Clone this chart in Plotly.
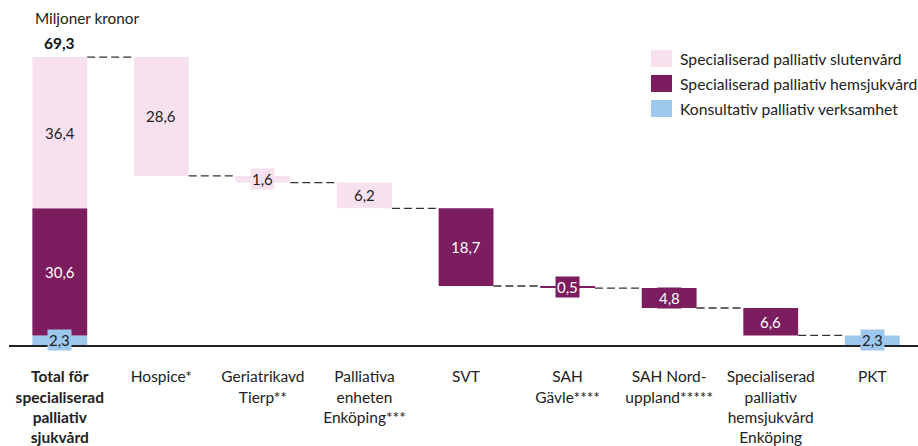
import plotly.graph_objects as go

# ---- data ----
categories = [
    "<b>Total för<br>specialiserad<br>palliativ<br>sjukvård</b>",
    "Hospice*",
    "Geriatrikavd<br>Tierp**",
    "Palliativa<br>enheten<br>Enköping***",
    "SVT",
    "SAH<br>Gävle****",
    "SAH Nord-<br>uppland*****",
    "Specialiserad<br>palliativ<br>hemsjukvård<br>Enköping",
    "PKT",
]
total_slutenvard = 36.4
total_hemsjukvard = 30.6
total_konsultativ = 2.3
total_label = "69,3"

# component steps (category index, value, group)
step_values = [28.6, 1.6, 6.2, 18.7, 0.5, 4.8, 6.6, 2.3]
step_groups = ["slut", "slut", "slut", "hem", "hem", "hem", "hem", "kons"]

group_names = {
    "slut": "Specialiserad palliativ slutenvård",
    "hem": "Specialiserad palliativ hemsjukvård",
    "kons": "Konsultativ palliativ verksamhet",
}
colors = {"slut": "#F8E1EE", "hem": "#7B1D5E", "kons": "#9DC7EC"}
text_colors = {"slut": "#1E1E1E", "hem": "#FFFFFF", "kons": "#1E1E1E"}

def fmt(v):
    return f"{v:.1f}".replace(".", ",")

# ---- layout geometry ----
W, H = 918, 446
ML, MR, MT, MB = 9, 0, 40, 101
PW, PH = W - ML - MR, H - MT - MB
BW = 0.54
FONT = "Lato, 'Open Sans', sans-serif"

def px_x(px):
    return (px - ML) / PW

def px_y(py):
    return (H - MB - py) / PH

# ---- build bars ----
bars = {g: {"x": [], "base": [], "y": []} for g in colors}
total = total_slutenvard + total_hemsjukvard + total_konsultativ
# total stacked bar
bars["kons"]["x"].append(0); bars["kons"]["base"].append(0); bars["kons"]["y"].append(total_konsultativ)
bars["hem"]["x"].append(0); bars["hem"]["base"].append(total_konsultativ); bars["hem"]["y"].append(total_hemsjukvard)
bars["slut"]["x"].append(0); bars["slut"]["base"].append(total_konsultativ + total_hemsjukvard); bars["slut"]["y"].append(total_slutenvard)

labels = [
    (0, total_konsultativ / 2, total_konsultativ, "kons"),
    (0, total_konsultativ + total_hemsjukvard / 2, total_hemsjukvard, "hem"),
    (0, total_konsultativ + total_hemsjukvard + total_slutenvard / 2, total_slutenvard, "slut"),
]
connectors = []
level = total
for i, (v, g) in enumerate(zip(step_values, step_groups), start=1):
    connectors.append((i - 1 + BW / 2, i - BW / 2, level))
    base = level - v
    bars[g]["x"].append(i); bars[g]["base"].append(base); bars[g]["y"].append(v)
    labels.append((i, base + v / 2, v, g))
    level = base

fig = go.Figure()
for g in ["kons", "hem", "slut"]:
    fig.add_trace(go.Bar(
        x=bars[g]["x"], y=bars[g]["y"], base=bars[g]["base"], width=BW,
        marker=dict(color=colors[g], line=dict(width=0)), name=group_names[g],
        showlegend=False, hoverinfo="skip",
    ))

for x0, x1, yv in connectors:
    fig.add_trace(go.Scatter(
        x=[x0, x1], y=[yv, yv], mode="lines",
        line=dict(color="#333333", width=1.3, dash="8px,4px"),
        showlegend=False, hoverinfo="skip",
    ))

for x, y, v, g in labels:
    fig.add_annotation(
        x=x, y=y, text=fmt(v), showarrow=False,
        font=dict(family=FONT, size=15, color=text_colors[g]),
        bgcolor=colors[g], borderpad=1,
    )

fig.add_annotation(x=0, y=total, text=f"<b>{total_label}</b>", showarrow=False,
                   yshift=14, font=dict(family=FONT, size=15.5, color="#111111"))

fig.add_annotation(xref="paper", yref="paper", x=px_x(33), y=px_y(18),
                   xanchor="left", yanchor="middle", text="Miljoner kronor",
                   showarrow=False, font=dict(family=FONT, size=15.3, color="#222222"))

# legend (manual)
leg_rows = [("slut", 50), ("hem", 75), ("kons", 100)]
for g, top in leg_rows:
    fig.add_shape(type="rect", xref="paper", yref="paper",
                  x0=px_x(651), x1=px_x(672), y0=px_y(top), y1=px_y(top + 17),
                  fillcolor=colors[g], line=dict(width=0))
    fig.add_annotation(xref="paper", yref="paper", x=px_x(678), y=px_y(top + 8.5),
                       xanchor="left", yanchor="middle", text=group_names[g],
                       showarrow=False, font=dict(family=FONT, size=15.7, color="#222222"))

fig.update_layout(
    width=W, height=H, margin=dict(l=ML, r=MR, t=MT, b=MB, autoexpand=False),
    paper_bgcolor="white", plot_bgcolor="white",
    barmode="overlay", showlegend=False,
    font=dict(family=FONT, size=15.5, color="#222222"),
)
fig.update_xaxes(
    range=[-0.5, 8.45], tickmode="array", tickvals=list(range(len(categories))),
    ticktext=categories, showgrid=False, zeroline=False, automargin=False,
    showline=True, linecolor="#222222", linewidth=1.5, ticks="",
    ticklabelstandoff=17, tickfont=dict(family=FONT, size=15.5, color="#222222"),
)
fig.update_yaxes(range=[0, 73.4], showgrid=False, zeroline=False, automargin=False,
                 showticklabels=False, showline=False)

fig.write_html("out.html")
